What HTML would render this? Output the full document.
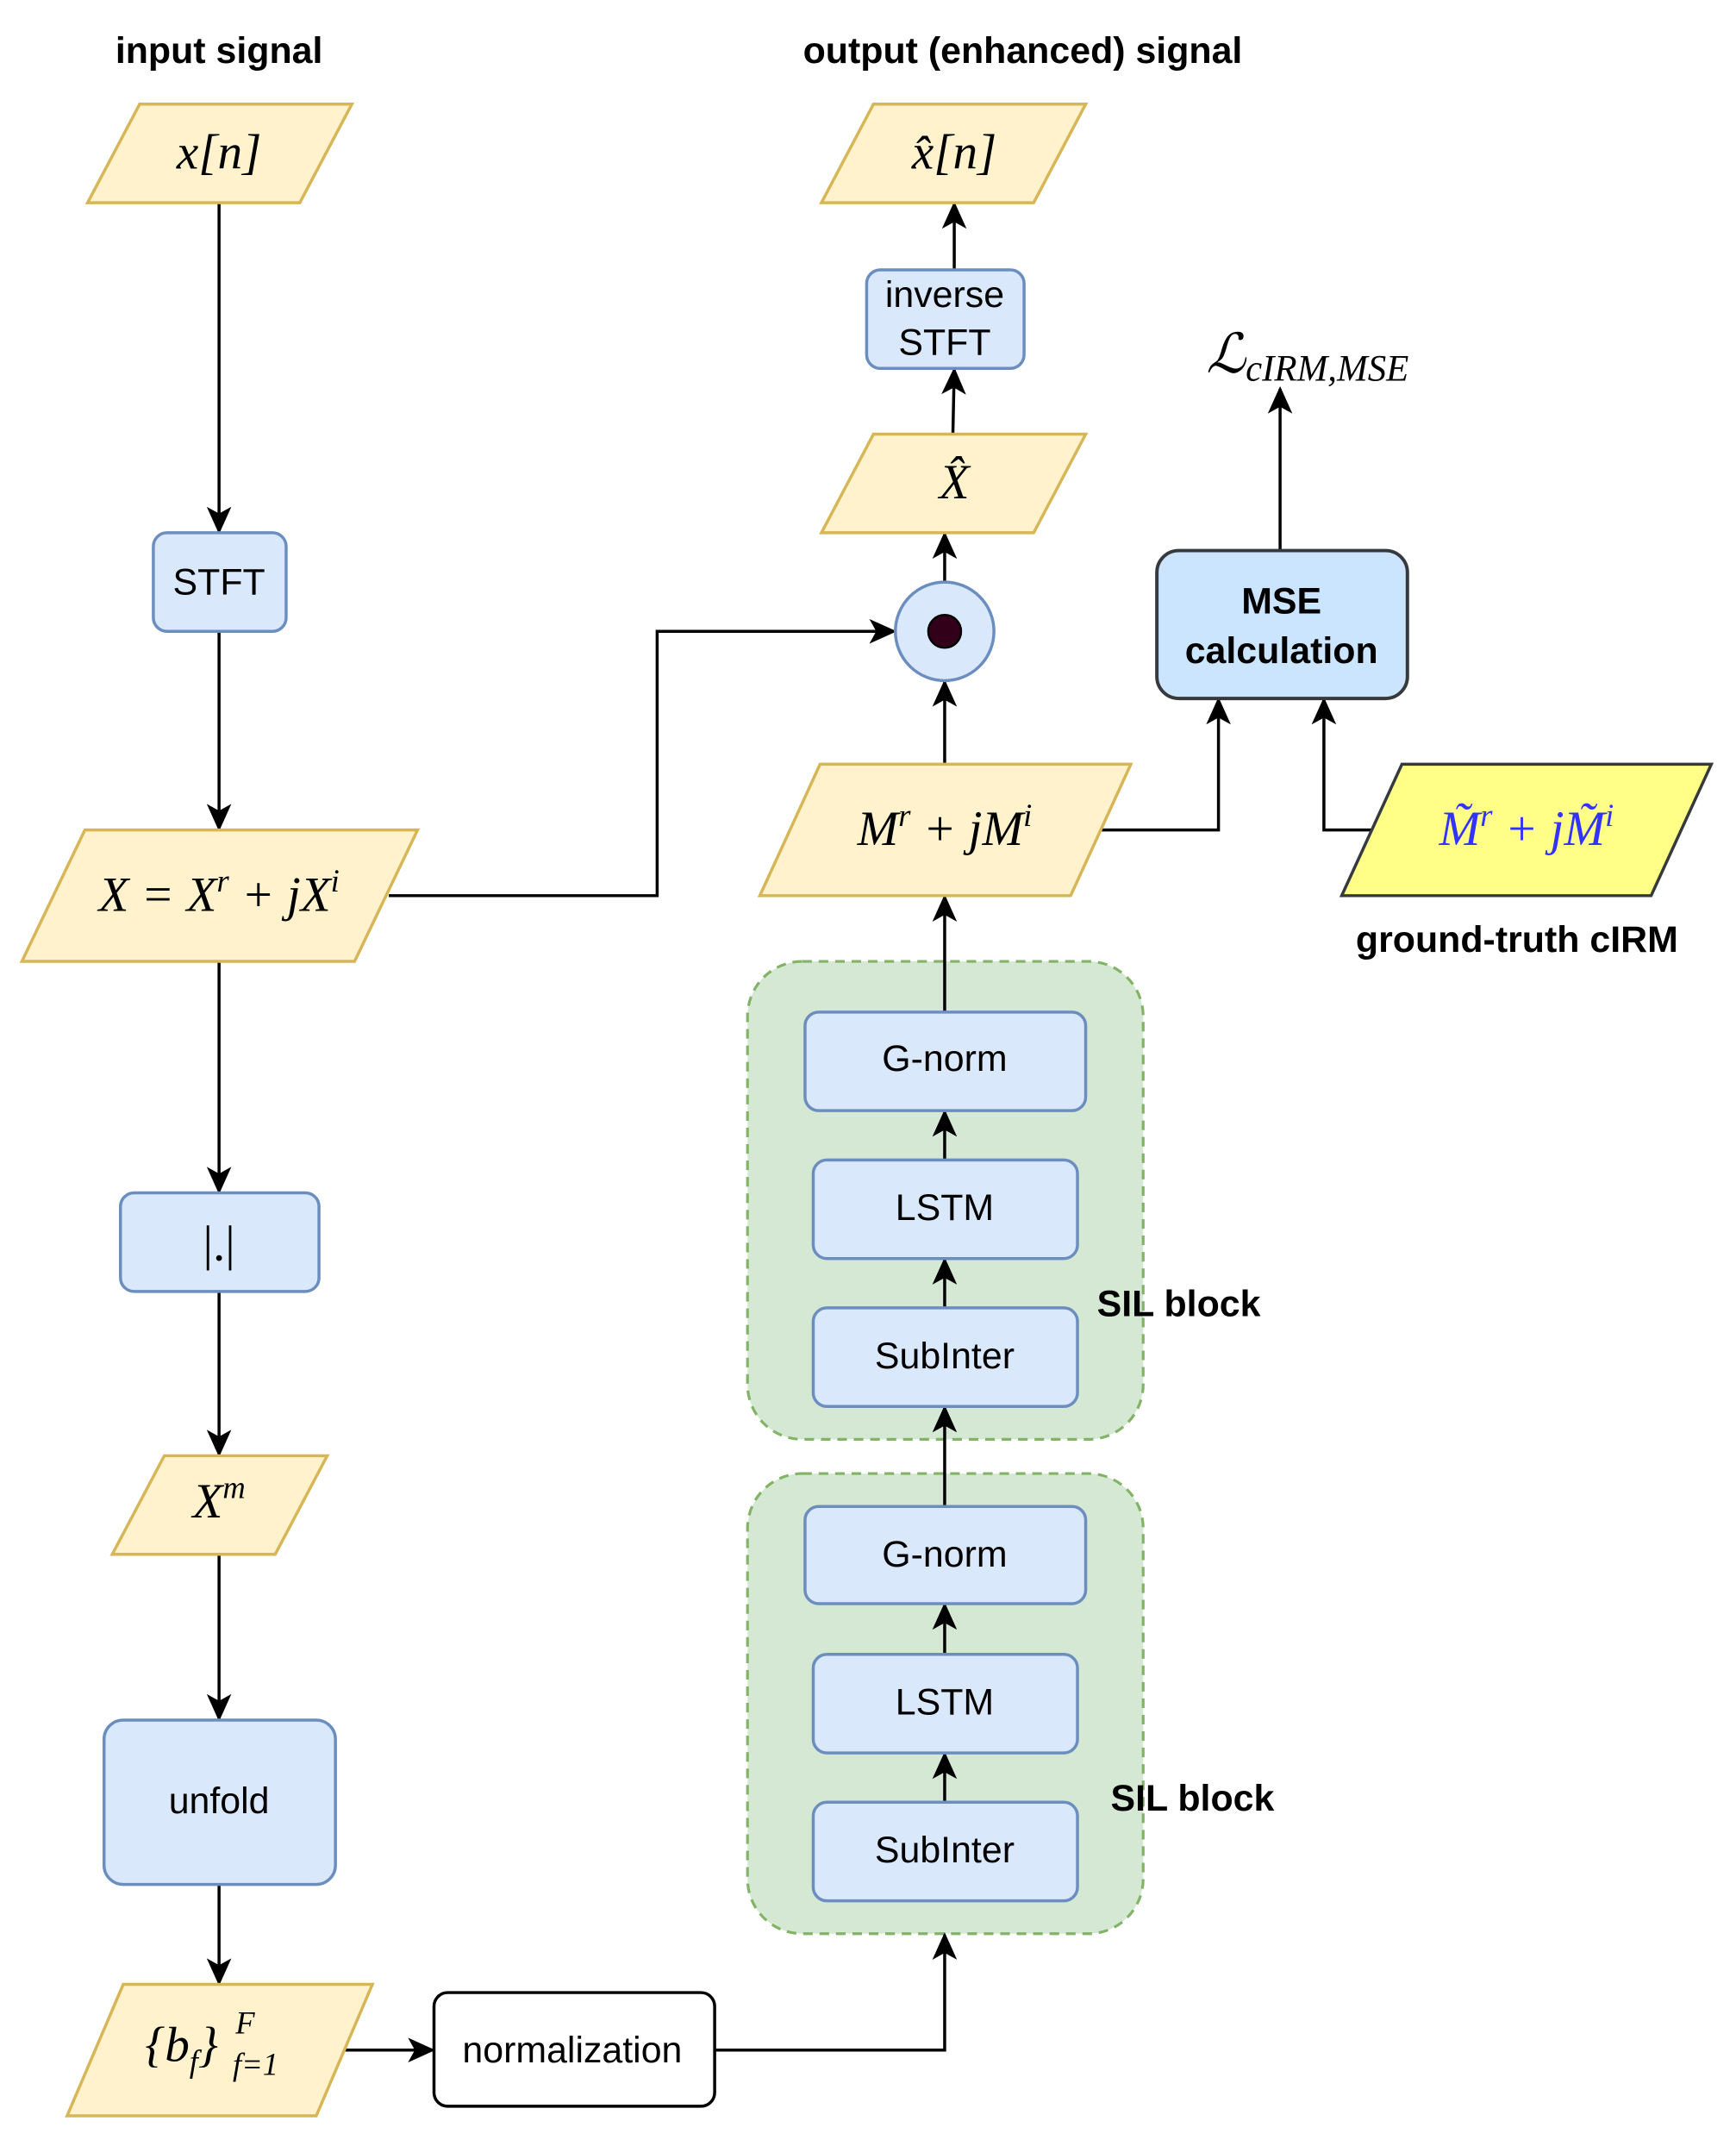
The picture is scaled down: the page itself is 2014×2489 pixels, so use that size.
<!DOCTYPE html>
<html><head><meta charset="utf-8"><style>
html,body{margin:0;padding:0;background:#fff;}
svg{display:block;}
.lbl{font-family:"Liberation Sans",sans-serif;font-size:27px;text-anchor:middle;fill:#000;}
.b{font-weight:bold;}
.m{font-family:"Liberation Serif",serif;font-style:italic;font-size:36px;text-anchor:middle;fill:#000;}
.sup{font-size:23px;}
</style></head><body>
<svg width="2014" height="2489" viewBox="0 0 1268 1567" xmlns="http://www.w3.org/2000/svg">
<defs>
<marker id="a" markerWidth="20" markerHeight="18" refX="18" refY="9" orient="auto" markerUnits="userSpaceOnUse">
<path d="M0,0 L20,9 L0,18 L5,9 Z" fill="#000"/>
</marker>
</defs>
<rect width="1268" height="1567" fill="#fff"/>

<text class="lbl b" x="160" y="46">input signal</text>
<text class="lbl b" x="747" y="46">output (enhanced) signal</text>

<rect x="546" y="702" width="289" height="349" rx="40" fill="#d5e8d4" stroke="#82b366" stroke-width="2" stroke-dasharray="7,5"/>
<rect x="546" y="1076" width="289" height="336" rx="40" fill="#d5e8d4" stroke="#82b366" stroke-width="2" stroke-dasharray="7,5"/>

<g fill="none" stroke="#000" stroke-width="2.2">
<line x1="160" y1="148" x2="160" y2="388" marker-end="url(#a)"/>
<line x1="160" y1="461" x2="160" y2="605" marker-end="url(#a)"/>
<line x1="160" y1="702" x2="160" y2="870" marker-end="url(#a)"/>
<line x1="160" y1="943" x2="160" y2="1062" marker-end="url(#a)"/>
<line x1="160" y1="1135" x2="160" y2="1255" marker-end="url(#a)"/>
<line x1="160" y1="1376" x2="160" y2="1448" marker-end="url(#a)"/>
<line x1="248" y1="1497" x2="316" y2="1497" marker-end="url(#a)"/>
<polyline points="522,1497 690,1497 690,1413" marker-end="url(#a)"/>
<polyline points="284,654 480,654 480,461 653,461" marker-end="url(#a)"/>
<line x1="690" y1="1316" x2="690" y2="1281" marker-end="url(#a)"/>
<line x1="690" y1="1208" x2="690" y2="1172" marker-end="url(#a)"/>
<line x1="690" y1="1100" x2="690" y2="1028" marker-end="url(#a)"/>
<line x1="690" y1="955" x2="690" y2="920" marker-end="url(#a)"/>
<line x1="690" y1="847" x2="690" y2="812" marker-end="url(#a)"/>
<line x1="690" y1="739" x2="690" y2="655" marker-end="url(#a)"/>
<line x1="690" y1="558" x2="690" y2="498" marker-end="url(#a)"/>
<line x1="690" y1="425" x2="690" y2="390" marker-end="url(#a)"/>
<line x1="696" y1="317" x2="697" y2="270" marker-end="url(#a)"/>
<line x1="697" y1="197" x2="697" y2="149" marker-end="url(#a)"/>
<polyline points="804,606 890,606 890,511" marker-end="url(#a)"/>
<polyline points="1003,606 967,606 967,511" marker-end="url(#a)"/>
<line x1="935" y1="402" x2="935" y2="284" marker-end="url(#a)"/>
</g>

<g fill="#fff2cc" stroke="#d6b656" stroke-width="2.2">
<polygon points="64,148 102,76 257,76 219,148"/>
<polygon points="16,702 62,606 305,606 259,702"/>
<polygon points="82,1135 120,1063 239,1063 201,1135"/>
<polygon points="49,1545 90,1449 272,1449 231,1545"/>
<polygon points="555,654 599,558 826,558 782,654"/>
<polygon points="600,389 638,317 793,317 755,389"/>
<polygon points="600,148 638,76 793,76 755,148"/>
</g>
<polygon points="980,654 1024,558 1250,558 1206,654" fill="#ffff88" stroke="#36393d" stroke-width="2.2"/>

<g fill="#dae8fc" stroke="#6c8ebf" stroke-width="2.2">
<rect x="112" y="389" width="97" height="72" rx="10"/>
<rect x="88" y="871" width="145" height="72" rx="10"/>
<rect x="76" y="1256" width="169" height="120" rx="14"/>
<rect x="633" y="197" width="115" height="72" rx="10"/>
<rect x="588" y="739" width="205" height="72" rx="10"/>
<rect x="594" y="847" width="193" height="72" rx="10"/>
<rect x="594" y="955" width="193" height="72" rx="10"/>
<rect x="588" y="1100" width="205" height="71" rx="10"/>
<rect x="594" y="1208" width="193" height="72" rx="10"/>
<rect x="594" y="1316" width="193" height="72" rx="10"/>
<circle cx="690" cy="461" r="36"/>
</g>
<circle cx="690" cy="461" r="12" fill="#33001a" stroke="#000" stroke-width="1.5"/>
<rect x="317" y="1455" width="205" height="83" rx="10" fill="#fff" stroke="#000" stroke-width="2.2"/>
<rect x="845" y="402" width="183" height="108" rx="16" fill="#cce5ff" stroke="#36393d" stroke-width="2.5"/>

<text class="lbl" x="160" y="434">STFT</text>
<text class="lbl" x="690" y="224">inverse</text>
<text class="lbl" x="690" y="259">STFT</text>
<text class="lbl" x="690" y="782">G-norm</text>
<text class="lbl" x="690" y="891">LSTM</text>
<text class="lbl" x="690" y="999">SubInter</text>
<text class="lbl" x="690" y="1144">G-norm</text>
<text class="lbl" x="690" y="1252">LSTM</text>
<text class="lbl" x="690" y="1360">SubInter</text>
<text class="lbl" x="160" y="1324">unfold</text>
<text class="lbl" x="418" y="1506">normalization</text>
<text class="lbl b" x="936" y="448">MSE</text>
<text class="lbl b" x="936" y="484">calculation</text>
<text class="lbl b" x="861" y="961">SIL block</text>
<text class="lbl b" x="871" y="1322">SIL block</text>
<text class="lbl b" x="1108" y="695">ground-truth cIRM</text>

<text class="m" x="160" y="123">x[n]</text>
<text class="m" x="697" y="123">x̂[n]</text>
<text class="m" x="697" y="364">X̂</text>
<text class="m" x="160" y="665">X = X<tspan class="sup" dy="-14">r</tspan><tspan dy="14"> + jX</tspan><tspan class="sup" dy="-14">i</tspan></text>
<text class="m" x="690" y="617">M<tspan class="sup" dy="-14">r</tspan><tspan dy="14"> + jM</tspan><tspan class="sup" dy="-14">i</tspan></text>
<text class="m" x="1115" y="617" style="fill:#3333ff">M̃<tspan class="sup" dy="-14">r</tspan><tspan dy="14"> + jM̃</tspan><tspan class="sup" dy="-14">i</tspan></text>
<text class="m" x="160" y="1108">X<tspan class="sup" dy="-14">m</tspan></text>
<text class="m" x="160" y="920" style="font-style:normal">|.|</text>
<text class="m" x="106" y="1505" style="text-anchor:start">{b<tspan class="sup" dy="8">f</tspan><tspan dy="-8">}</tspan></text>
<text class="m sup" x="172" y="1485" style="text-anchor:start;font-size:23px">F</text>
<text class="m sup" x="170" y="1515" style="text-anchor:start;font-size:23px">f=1</text>
<text class="m" x="955" y="272" style="font-size:40px">ℒ<tspan style="font-size:27px" dy="6">cIRM,MSE</tspan></text>
</svg>
</body></html>
